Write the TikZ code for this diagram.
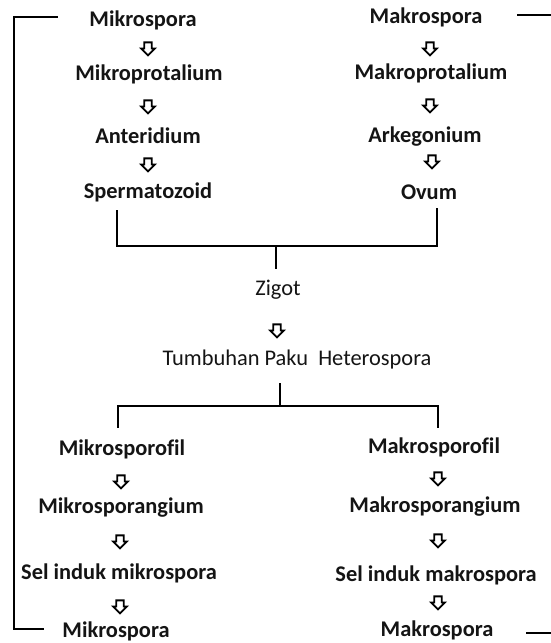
\documentclass[tikz,border=0pt]{standalone}
\usepackage{fontspec}
\setmainfont[Ligatures=NoCommon]{Carlito}
\usetikzlibrary{shapes.arrows}
\begin{document}
\begin{tikzpicture}[x=1pt,y=-1pt,
  lbl/.style={font=\fontsize{22.4}{25}\selectfont\bfseries, inner sep=0pt, text=black!92},
  lblr/.style={font=\fontsize{22.4}{25}\selectfont, inner sep=0pt, text=black!92},
  darr/.style={single arrow, draw=black, fill=white, line width=1.8pt, rotate=-90,
    minimum height=13pt, inner xsep=0pt, inner ysep=2.8pt,
    single arrow head extend=3.2pt},
  ln/.style={line width=2.6pt, line cap=rect}]
\useasboundingbox (0,0) rectangle (550,643);
% left column (top)
\node[lbl] (mi1) at (143,20) {Mikrospora};
\node[darr] (la1) at (148,47) {};
\node[lbl] (mi2) at (149,74) {Mikroprotalium};
\node[darr] (la2) at (148,105) {};
\node[lbl] (mi3) at (148,136) {Anteridium};
\node[darr] (la3) at (148,163) {};
\node[lbl] (mi4) at (148,192) {Spermatozoid};
% right column (top)
\node[lbl] (ma1) at (426,17) {Makrospora};
\node[darr] (ra1) at (430,47) {};
\node[lbl] (ma2) at (431,73) {Makroprotalium};
\node[darr] (ra2) at (430,104) {};
\node[lbl] (ma3) at (425,137) {Arkegonium};
\node[darr] (ra3) at (432,160) {};
\node[lbl] (ma4) at (429,192) {Ovum};
% middle
\node[lblr] (zi) at (278,290) {Zigot};
\node[darr] (za) at (277,329) {};
\node[lblr] (tp) at (297,360) {Tumbuhan Paku\ \ Heterospora};
% left column (bottom)
\node[lbl] (ms1) at (122,449) {Mikrosporofil};
\node[darr] (lb1) at (121,480) {};
\node[lbl] (ms2) at (121,508) {Mikrosporangium};
\node[darr] (lb2) at (120,540) {};
\node[lbl] (ms3) at (119,573) {Sel induk mikrospora};
\node[darr] (lb3) at (120,605) {};
\node[lbl] (ms4) at (116,631) {Mikrospora};
% right column (bottom)
\node[lbl] (mk1) at (434,447) {Makrosporofil};
\node[darr] (rb1) at (438,477) {};
\node[lbl] (mk2) at (435,507) {Makrosporangium};
\node[darr] (rb2) at (438,539) {};
\node[lbl] (mk3) at (436,575) {Sel induk makrospora};
\node[darr] (rb3) at (438,601) {};
\node[lbl] (mk4) at (437,630) {Makrospora};
% coordinates for connectors
\coordinate (tl1) at (57,17);
\coordinate (tl0) at (14,17);
\coordinate (bl0) at (14,629);
\coordinate (bl1) at (43,629);
\coordinate (tr0) at (518,15);
\coordinate (tr1) at (550,15);
\coordinate (br0) at (527,633);
\coordinate (br1) at (550,633);
\coordinate (jl0) at (117,211);
\coordinate (jl1) at (117,246);
\coordinate (jr0) at (437,209);
\coordinate (jr1) at (437,246);
\coordinate (jm0) at (276,246);
\coordinate (jm1) at (276,268);
\coordinate (sm0) at (280,384);
\coordinate (sm1) at (280,406);
\coordinate (sl0) at (118,406);
\coordinate (sl1) at (118,427);
\coordinate (sr0) at (438,406);
\coordinate (sr1) at (438,427);
% lines
\draw[ln] (tl1) -- (tl0) -- (bl0) -- (bl1);
\draw[ln] (tr0) -- (tr1);
\draw[ln] (br0) -- (br1);
\draw[ln] (jl0) -- (jl1) -- (jr1) -- (jr0);
\draw[ln] (jm0) -- (jm1);
\draw[ln] (sm0) -- (sm1);
\draw[ln] (sl1) -- (sl0) -- (sr0) -- (sr1);
\end{tikzpicture}
\end{document}
